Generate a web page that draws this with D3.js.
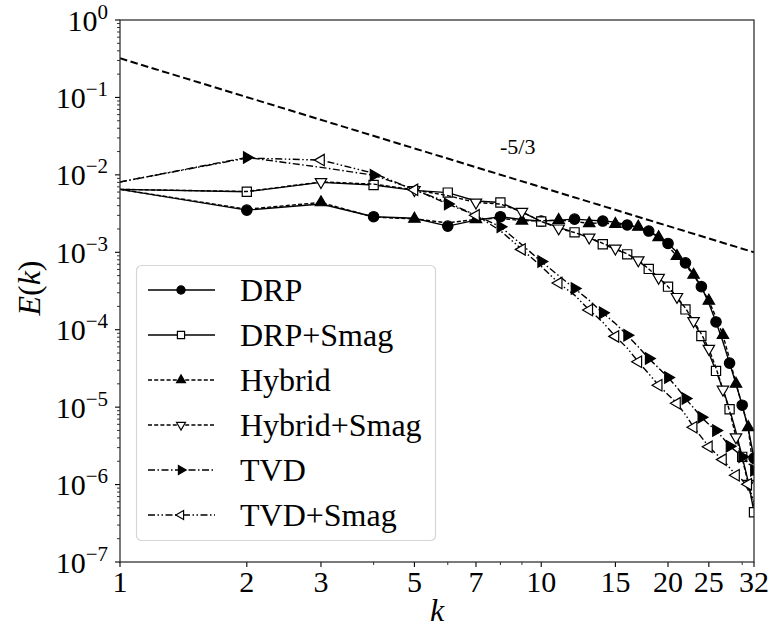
<!DOCTYPE html>
<html>
<head>
<meta charset="utf-8">
<script src="https://cdn.jsdelivr.net/npm/d3@7"></script>
<style>
  html, body { margin: 0; padding: 0; background: #fff; }
</style>
</head>
<body>
<div id="chart"></div>
<script>
"use strict";

// ---- data ----
var kValues = [1, 2, 3, 4, 5, 6, 7, 8, 9, 10, 11, 12, 13, 14, 15, 16,
  17, 18, 19, 20, 21, 22, 23, 24, 25, 26, 27, 28, 29, 30, 31, 32];

var drp = [6.5e-3, 3.5e-3, 4.2e-3, 2.88e-3, 2.75e-3, 2.18e-3, 2.6e-3, 2.88e-3,
  2.65e-3, 2.53e-3, 2.6e-3, 2.68e-3, 2.6e-3, 2.53e-3, 2.45e-3, 2.25e-3,
  2.1e-3, 1.88e-3, 1.6e-3, 1.3e-3, 1.0e-3, 7.3e-4, 5.2e-4, 3.6e-4,
  2.2e-4, 1.26e-4, 7.0e-5, 3.7e-5, 2.0e-5, 1.06e-5, 5.3e-6, 2.2e-6];

var drpSmag = [6.5e-3, 6.05e-3, 8.0e-3, 7.4e-3, 6.3e-3, 5.9e-3, 4.6e-3, 4.4e-3,
  3.3e-3, 2.5e-3, 2.1e-3, 1.81e-3, 1.55e-3, 1.27e-3, 1.1e-3, 9.4e-4,
  7.7e-4, 6.1e-4, 4.7e-4, 3.6e-4, 2.6e-4, 1.83e-4, 1.25e-4, 8.3e-5,
  5.0e-5, 2.94e-5, 1.7e-5, 9.4e-6, 4.8e-6, 2.28e-6, 1.1e-6, 4.4e-7];

var hybrid = [6.5e-3, 3.6e-3, 4.4e-3, 2.85e-3, 2.7e-3, 2.4e-3, 2.66e-3, 2.75e-3,
  2.55e-3, 2.55e-3, 2.6e-3, 2.5e-3, 2.36e-3, 2.4e-3, 2.31e-3, 2.25e-3,
  2.13e-3, 1.85e-3, 1.56e-3, 1.2e-3, 8.9e-4, 6.8e-4, 5.1e-4, 3.5e-4,
  2.36e-4, 1.45e-4, 8.5e-5, 4.2e-5, 2.0e-5, 1.05e-5, 5.5e-6, 1.3e-6];

var hybridSmag = [6.5e-3, 6.1e-3, 8.1e-3, 7.6e-3, 6.4e-3, 5.4e-3, 4.4e-3, 4.2e-3,
  3.34e-3, 2.5e-3, 2.04e-3, 1.8e-3, 1.56e-3, 1.3e-3, 1.12e-3, 9.5e-4,
  7.9e-4, 6.1e-4, 4.7e-4, 3.6e-4, 2.66e-4, 1.9e-4, 1.3e-4, 8.8e-5,
  5.7e-5, 3.2e-5, 1.69e-5, 9.0e-6, 4.1e-6, 2.2e-6, 1.03e-6, 5.0e-7];

var tvd = [8.1e-3, 1.68e-2, 1.25e-2, 9.9e-3, 6.5e-3, 4.2e-3, 3.0e-3, 2.14e-3,
  1.25e-3, 7.6e-4, 5.0e-4, 3.4e-4, 2.4e-4, 1.65e-4, 1.2e-4, 8.5e-5,
  6.0e-5, 4.26e-5, 3.2e-5, 2.42e-5, 1.8e-5, 1.29e-5, 9.8e-6, 7.4e-6,
  6.0e-6, 5.0e-6, 4.0e-6, 3.13e-6, 2.7e-6, 2.28e-6, 1.9e-6, 1.53e-6];

var tvdSmag = [8.1e-3, 1.65e-2, 1.55e-2, 1.05e-2, 6.4e-3, 4.4e-3, 3.0e-3, 1.9e-3,
  1.09e-3, 6.6e-4, 4.0e-4, 2.8e-4, 1.8e-4, 1.25e-4, 8.2e-5, 5.8e-5,
  3.85e-5, 2.7e-5, 1.92e-5, 1.45e-5, 1.12e-5, 8.0e-6, 5.5e-6, 4.1e-6,
  3.07e-6, 2.5e-6, 2.1e-6, 1.65e-6, 1.32e-6, 1.15e-6, 1.01e-6, 6.0e-7];

// -5/3 reference slope line (end points)
var refK = [1, 32];
var refE = [0.32, 1.0e-3];

var xTicks = [1, 2, 3, 5, 7, 10, 15, 20, 25, 32];
var xMinorTicks = [4, 6, 8, 9, 30];
var yTickExp = [0, -1, -2, -3, -4, -5, -6, -7];

// ---- series styles ----
var series = [
  { name: "DRP", values: drp, marker: "circle", filled: true, dash: null, start: 1 },
  { name: "DRP+Smag", values: drpSmag, marker: "square", filled: false, dash: null, start: 1 },
  { name: "Hybrid", values: hybrid, marker: "triUp", filled: true, dash: "4,2.2", start: 2 },
  { name: "Hybrid+Smag", values: hybridSmag, marker: "triDown", filled: false, dash: "4,2.2", start: 2 },
  { name: "TVD", values: tvd, marker: "triRight", filled: true, dash: "7,2.5,1.5,2.5", start: 1 },
  { name: "TVD+Smag", values: tvdSmag, marker: "triLeft", filled: false, dash: "7,2.5,1.5,2.5,1.5,2.5", start: 2 }
];

var FONT = "'Liberation Serif', 'Times New Roman', Tinos, 'DejaVu Serif', serif";

var W = 772, H = 634;
var pLeft = 120, pRight = 754, pTop = 20, pBottom = 562;

var svg = d3.select("#chart").append("svg")
  .attr("width", W).attr("height", H)
  .attr("font-family", FONT)
  .style("font-family", FONT);

var x = d3.scaleLog().domain([1, 32]).range([pLeft, pRight]);
var y = d3.scaleLog().domain([1e-7, 1]).range([pBottom, pTop]);

function markerPath(type, s) {
  s = s || 1;
  var r = 6.6 * s;
  var h = r * 0.5;
  var w = r * 0.866;
  switch (type) {
    case "circle":
      var c = 5.2 * s;
      return "M" + c + ",0A" + c + "," + c + " 0 1,1 " + (-c) + ",0A" + c + "," + c + " 0 1,1 " + c + ",0Z";
    case "square":
      var q = 4.6 * s;
      return "M" + (-q) + "," + (-q) + "H" + q + "V" + q + "H" + (-q) + "Z";
    case "triUp":
      return "M0," + (-r) + "L" + w + "," + h + "L" + (-w) + "," + h + "Z";
    case "triDown":
      return "M0," + r + "L" + w + "," + (-h) + "L" + (-w) + "," + (-h) + "Z";
    case "triRight":
      return "M" + r + ",0L" + (-h) + "," + (-w) + "L" + (-h) + "," + w + "Z";
    case "triLeft":
      return "M" + (-r) + ",0L" + h + "," + (-w) + "L" + h + "," + w + "Z";
  }
}

function addText(g) {
  return g.append("text").attr("font-family", FONT).style("font-family", FONT).attr("fill", "#000");
}

svg.append("defs").append("clipPath").attr("id", "plotClip")
  .append("rect").attr("x", pLeft).attr("y", pTop)
  .attr("width", pRight - pLeft).attr("height", pBottom - pTop);

var plot = svg.append("g").attr("clip-path", "url(#plotClip)");

// reference -5/3 line
plot.append("path")
  .datum(d3.zip(refK, refE))
  .attr("d", d3.line().x(function (d) { return x(d[0]); }).y(function (d) { return y(d[1]); }))
  .attr("fill", "none").attr("stroke", "#000")
  .attr("stroke-width", 2).attr("stroke-dasharray", "7.5,3.5");

addText(svg).attr("x", 500).attr("y", 154)
  .style("font-size", "22px").text("-5/3");

var line = d3.line()
  .x(function (d) { return x(d[0]); })
  .y(function (d) { return y(d[1]); });

series.forEach(function (s) {
  var pts = d3.zip(kValues, s.values);
  plot.append("path")
    .datum(pts)
    .attr("d", line)
    .attr("fill", "none").attr("stroke", "#000")
    .attr("stroke-width", 1.4)
    .attr("stroke-dasharray", s.dash);

  var marks = pts.filter(function (d, i) { return i >= s.start && (i - s.start) % 2 === 0; });
  plot.selectAll(null).data(marks).enter().append("path")
    .attr("d", markerPath(s.marker))
    .attr("transform", function (d) { return "translate(" + x(d[0]) + "," + y(d[1]) + ")"; })
    .attr("fill", s.filled ? "#000" : "#fff")
    .attr("stroke", "#000").attr("stroke-width", 1.2);
});

// ---- axes ----
var axisG = svg.append("g");

// x ticks
xTicks.forEach(function (t) {
  axisG.append("line").attr("x1", x(t)).attr("x2", x(t))
    .attr("y1", pBottom).attr("y2", pBottom + 5).attr("stroke", "#000").attr("stroke-width", 1.1);
  addText(axisG).attr("x", x(t)).attr("y", 592)
    .attr("text-anchor", "middle").style("font-size", "30px").text(t);
});
xMinorTicks.forEach(function (t) {
  axisG.append("line").attr("x1", x(t)).attr("x2", x(t))
    .attr("y1", pBottom).attr("y2", pBottom + 3).attr("stroke", "#000").attr("stroke-width", 0.8);
});

// y ticks
yTickExp.forEach(function (e) {
  var v = Math.pow(10, e);
  var yy = y(v);
  axisG.append("line").attr("x1", pLeft - 5).attr("x2", pLeft)
    .attr("y1", yy).attr("y2", yy).attr("stroke", "#000").attr("stroke-width", 1.1);
  var t = addText(axisG).attr("x", 108).attr("y", yy + 10.5)
    .attr("text-anchor", "end").style("font-size", "30px");
  t.append("tspan").text("10");
  t.append("tspan").attr("dy", -12).style("font-size", "21px")
    .text(e === 0 ? "0" : "\u2212" + (-e));
  if (e > -7) {
    for (var m = 2; m <= 9; m++) {
      var ym = y(v / 10 * m);
      axisG.append("line").attr("x1", pLeft - 3).attr("x2", pLeft)
        .attr("y1", ym).attr("y2", ym).attr("stroke", "#000").attr("stroke-width", 0.8);
    }
  }
});

// frame
svg.append("rect").attr("x", pLeft).attr("y", pTop)
  .attr("width", pRight - pLeft).attr("height", pBottom - pTop)
  .attr("fill", "none").attr("stroke", "#222").attr("stroke-width", 1.2);

// axis labels
addText(svg).attr("x", 437).attr("y", 621)
  .attr("text-anchor", "middle").style("font-size", "32px").style("font-style", "italic").text("k");

var yl = addText(svg)
  .attr("transform", "translate(40,288) rotate(-90)")
  .attr("text-anchor", "middle").style("font-size", "32px");
yl.append("tspan").style("font-style", "italic").text("E");
yl.append("tspan").text("(");
yl.append("tspan").style("font-style", "italic").text("k");
yl.append("tspan").text(")");

// ---- legend ----
var legend = svg.append("g");
legend.append("rect").attr("x", 136.5).attr("y", 265.5)
  .attr("width", 299).attr("height", 275).attr("rx", 5)
  .attr("fill", "#fff").attr("fill-opacity", 0.85)
  .attr("stroke", "#d6d6d6").attr("stroke-width", 1.2);

series.forEach(function (s, i) {
  var cy = 290 + i * 45;
  legend.append("line").attr("x1", 148).attr("x2", 215)
    .attr("y1", cy).attr("y2", cy)
    .attr("stroke", "#000").attr("stroke-width", 1.4)
    .attr("stroke-dasharray", s.dash);
  legend.append("path").attr("d", markerPath(s.marker, 0.78))
    .attr("transform", "translate(181," + cy + ")")
    .attr("fill", s.filled ? "#000" : "#fff")
    .attr("stroke", "#000").attr("stroke-width", 1.2);
  addText(legend).attr("x", 240).attr("y", cy + 11)
    .style("font-size", "32px").text(s.name);
});
</script>
</body>
</html>
